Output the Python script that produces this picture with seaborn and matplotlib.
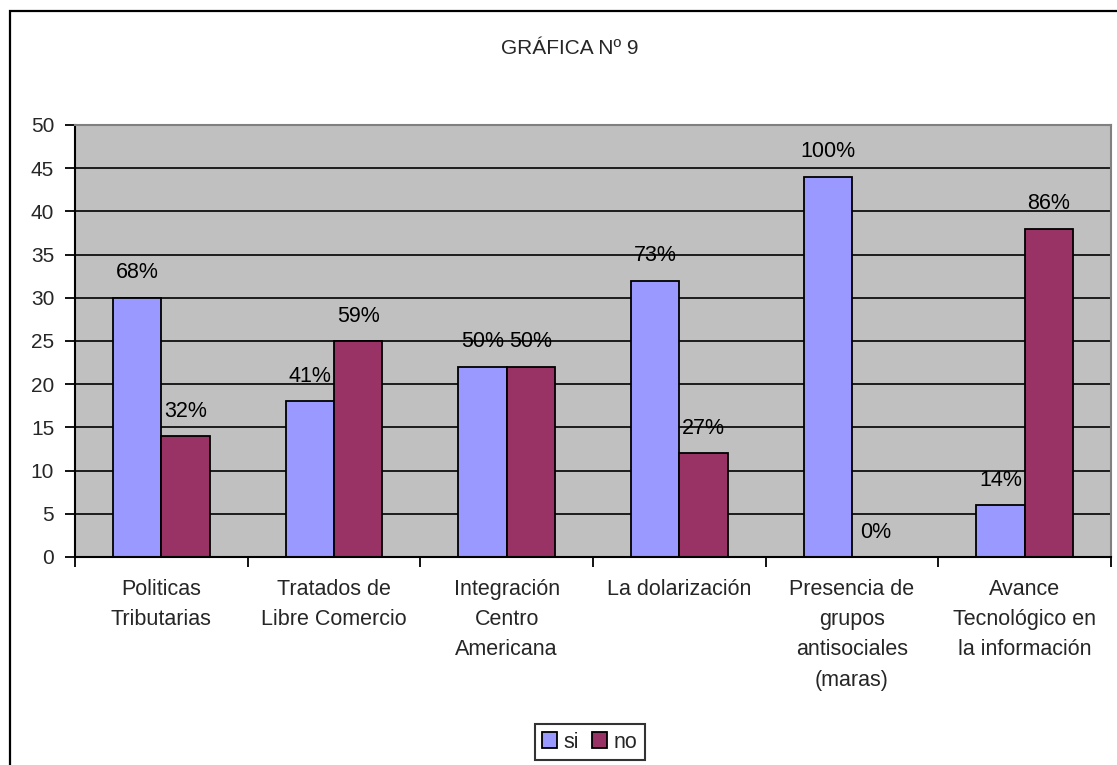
import matplotlib
matplotlib.use("Agg")
import matplotlib.pyplot as plt
from matplotlib.patches import Rectangle
from matplotlib.ticker import FixedLocator
import seaborn as sns
import pandas as pd

# Survey results per factor
categories = [
    "Politicas\nTributarias",
    "Tratados de\nLibre Comercio",
    "Integración\nCentro\nAmericana",
    "La dolarización",
    "Presencia de\ngrupos\nantisociales\n(maras)",
    "Avance\nTecnológico en\nla información",
]
series_names = ["si", "no"]
si_values = [30, 18, 22, 32, 44, 6]
no_values = [14, 25, 22, 12, 0, 38]
si_labels = ["68%", "41%", "50%", "73%", "100%", "14%"]
no_labels = ["32%", "59%", "50%", "27%", "0%", "86%"]
y_ticks = [0, 5, 10, 15, 20, 25, 30, 35, 40, 45, 50]
title_text = "GRÁFICA Nº 9"

colors = ["#9999FF", "#993366"]

df = pd.DataFrame({
    "factor": categories * 2,
    "serie": [series_names[0]] * len(categories) + [series_names[1]] * len(categories),
    "valor": si_values + no_values,
})

sns.set_style("white")
plt.rcParams["font.family"] = ["Liberation Sans", "DejaVu Sans"]
plt.rcParams["font.size"] = 15

W, H = 1117, 765
fig = plt.figure(figsize=(W / 100, H / 100), dpi=100)
fig.patch.set_facecolor("white")
ax = fig.add_axes([75 / W, 1 - 557 / H, (1111 - 75) / W, (557 - 125) / H])

sns.barplot(
    data=df, x="factor", y="valor", hue="serie", order=categories,
    hue_order=series_names, palette=colors, width=0.56, gap=0,
    edgecolor="black", linewidth=1.3, saturation=1, ax=ax, legend=True,
    errorbar=None,
)

ax.set_facecolor("#C0C0C0")
ax.set_xlim(-0.5, len(categories) - 0.5)
ax.set_ylim(y_ticks[0], y_ticks[-1])
ax.set_yticks(y_ticks)
ax.set_axisbelow(True)
ax.yaxis.grid(True, color="black", linewidth=1.2)
ax.xaxis.grid(False)
ax.set_xlabel("")
ax.set_ylabel("")

# category names at the centres, tick marks at the boundaries
ax.xaxis.set_major_locator(FixedLocator([i - 0.5 for i in range(len(categories) + 1)]))
ax.xaxis.set_major_formatter(plt.NullFormatter())
ax.xaxis.set_minor_locator(FixedLocator(list(range(len(categories)))))
ax.set_xticklabels(categories, minor=True, linespacing=1.57, ha="center", va="top")
ax.tick_params(axis="x", which="major", direction="out", length=7, width=1.3,
               color="black", bottom=True)
ax.tick_params(axis="x", which="minor", length=0, pad=16, labelsize=15.5)
ax.tick_params(axis="y", direction="out", length=7, width=1.3, color="black",
               left=True, pad=8, labelsize=15)

for side in ["left", "bottom"]:
    ax.spines[side].set_color("black")
    ax.spines[side].set_linewidth(1.5)
for side in ["top", "right"]:
    ax.spines[side].set_color("#808080")
    ax.spines[side].set_linewidth(1.5)

# percentage labels above each bar
for container, texts in zip(ax.containers, [si_labels, no_labels]):
    for bar, txt in zip(container, texts):
        xc = bar.get_x() + bar.get_width() / 2
        ax.annotate(txt, (xc, bar.get_height()), xytext=(0, 18),
                    textcoords="offset points", ha="center", va="center",
                    fontsize=15.5, color="black")

ax.get_legend().remove()
handles = [Rectangle((0, 0), 1, 1, facecolor=c, edgecolor="black", linewidth=1.3)
           for c in colors]
leg = fig.legend(handles, series_names, loc="center",
                 bbox_to_anchor=(590 / W, 1 - 742 / H), ncol=2,
                 frameon=True, fancybox=False, edgecolor="black",
                 handlelength=0.7, handleheight=0.7, handletextpad=0.3,
                 columnspacing=0.6, borderpad=0.35, fontsize=15.5)
leg.get_frame().set_linewidth(1.5)

fig.text(570 / W, 1 - 48 / H, title_text, ha="center", va="center", fontsize=15)

# outer chart frame
fig.add_artist(Rectangle((10 / W, -0.5), 2.0, 0.5 + 1 - 11 / H,
                         transform=fig.transFigure, fill=False,
                         edgecolor="black", linewidth=1.6))

fig.savefig("out.png", dpi=100, facecolor="white")
